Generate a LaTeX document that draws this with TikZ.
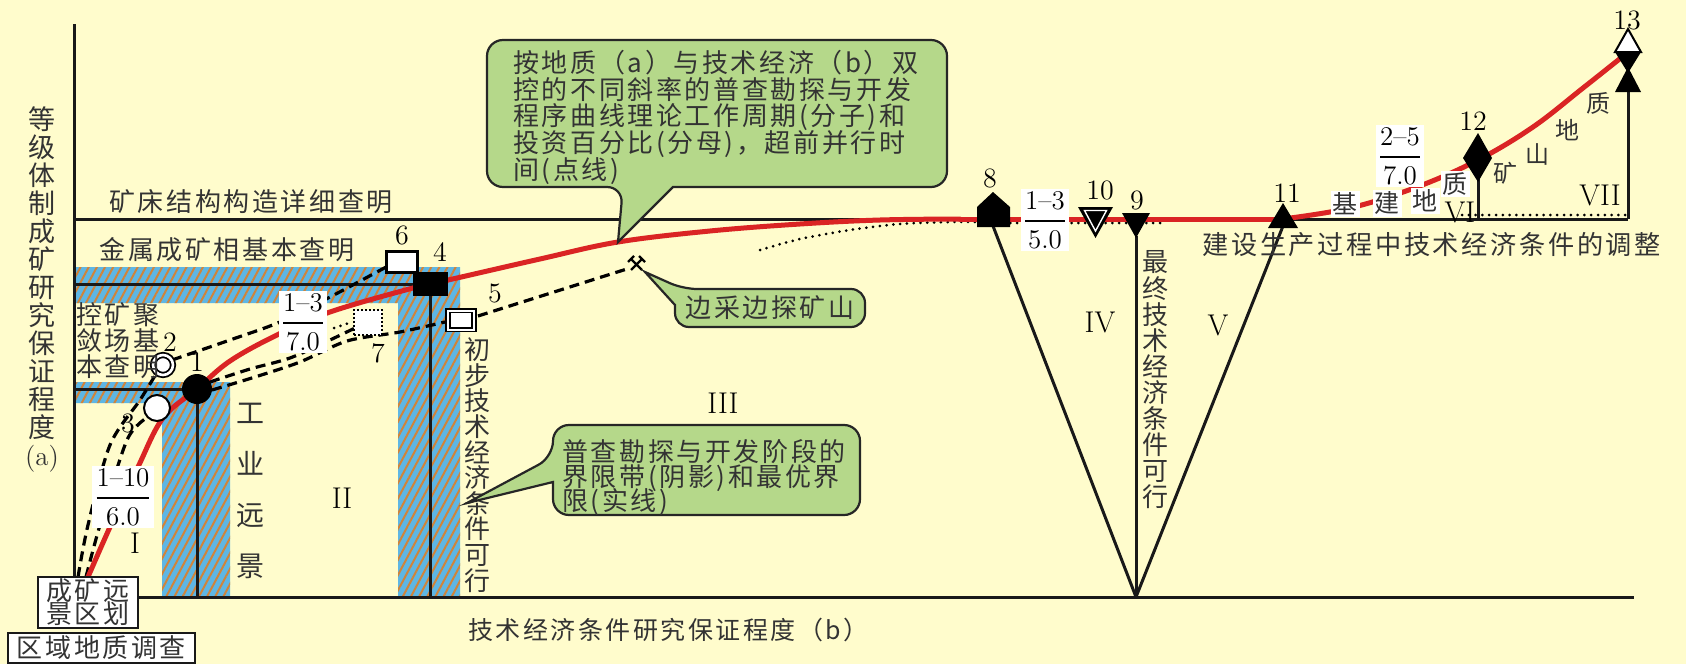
\documentclass[tikz,border=0pt]{standalone}
\usepackage{fontspec}
\usepackage{amsmath}
\usetikzlibrary{patterns.meta}
\newfontfamily\cjk[LetterSpace=10]{Noto Sans CJK SC}
\newcommand{\workfrac}[2]{$\genfrac{}{}{0.9pt}{0}{\mbox{#1}}{\mbox{#2}}$}

\begin{document}
\lineskiplimit=-100pt
\begin{tikzpicture}[x=0.5pt, y=-0.5pt,
  frame/.style={line width=1.5pt, draw=black!90},
  bandfill/.style={fill=bandBlue, postaction={pattern={Lines[angle=62,distance=3.6pt,line width=1pt]}, pattern color=bandOrange}},
  optcurve/.style={line width=2.5pt, draw=curveRed, line cap=round},
  dashcurve/.style={line width=1.6pt, dash pattern=on 5pt off 3pt},
  dotcurve/.style={line width=1.5pt, line cap=round, dash pattern=on 0pt off 3.4pt},
  zh/.style={font=\cjk\fontsize{13}{13}\selectfont, text=inkGray, inner sep=0pt},
  num/.style={font=\fontsize{14}{14}\selectfont, inner sep=0pt},
  roman/.style={font=\fontsize{15}{15}\selectfont, inner sep=0pt},
  fracbox/.style={fill=white, inner sep=1pt, font=\fontsize{13.5}{13.5}\selectfont},
  tagbox/.style={fill=white, draw=black!90, line width=1.1pt, inner sep=0pt, text=inkGray},
  note/.style={fill=noteGreen, draw=black!85, line width=1.1pt},
]

% Colors
\definecolor{paperYellow}{HTML}{FFFCCC}
\definecolor{bandBlue}{HTML}{5EB6E4}
\definecolor{bandOrange}{HTML}{D0843A}
\definecolor{curveRed}{HTML}{DA2424}
\definecolor{noteGreen}{HTML}{B5D88A}
\definecolor{inkGray}{HTML}{333333}

% Background
\fill[paperYellow] (0,0) rectangle (1686,664);
\useasboundingbox (0,0) rectangle (1686,664);

% Boundary bands (shaded)
\path[bandfill] (74,267) -- (460,267) -- (460,597) -- (398,597) -- (398,303) -- (74,303) -- cycle;
\path[bandfill] (74,382) -- (230,382) -- (230,597) -- (162,597) -- (162,403) -- (74,403) -- cycle;

% Stage points
\coordinate (p1) at (197,389);
\coordinate (p2) at (163,365);
\coordinate (p3) at (157,408);
\coordinate (p4) at (430,284);
\coordinate (p5) at (461,320);
\coordinate (p6) at (402,262);
\coordinate (p7) at (368,322);
\coordinate (p12) at (1478,158);
\coordinate (p13) at (1628,92);

% Axes and frame lines
\coordinate (yTop) at (74,24);
\coordinate (yBot) at (74,577);
\coordinate (xLeft) at (138,597);
\coordinate (xRight) at (1634,597);
\coordinate (vBot) at (1136,597);
\draw[frame] (yTop) -- (yBot);
\draw[frame] (xLeft) -- (xRight);
\draw[frame] (74,219) -- (1628,219);
\draw[frame] (74,284) -- (p4) -- (p4 |- xLeft);
\draw[frame] (74,389) -- (p1) -- (p1 |- xLeft);
\draw[frame] (993,226) -- (vBot);
\draw[frame] (1283,226) -- (vBot);
\draw[frame] (1136,236) -- (vBot);
\draw[frame] (p12) -- (p12 |- 0,219);
\draw[frame] (p13) -- (p13 |- 0,219);

% Dotted lines (lead time)
\draw[dotcurve] plot[smooth] coordinates {(760,250) (800,239) (850,230) (900,224) (950,222) (990,222)};
\draw[dotcurve] (990,223) -- (1160,223);
\draw[dotcurve] (1462,215) -- (1626,215);
\draw[dotcurve] (334,328) -- (352,322);

% Dashed variant curves
\draw[dashcurve] plot[smooth] coordinates {(78,577) (88,525) (110,445) (140,400) (156,374)};
\draw[dashcurve] plot[smooth] coordinates {(86,577) (100,525) (127,440) (148,417)};
\draw[dashcurve] plot[smooth] coordinates {(172,360) (230,340) (280,322) (332,296) (388,266)};
\draw[dashcurve] plot[smooth] coordinates {(210,382) (250,369) (290,358) (330,340) (355,328)};
\draw[dashcurve] plot[smooth] coordinates {(212,390) (255,377) (300,362) (347,341) (400,332) (445,322)};
\draw[dashcurve] (478,316) -- (630,268);

% Mine mark
\draw[line width=1.2pt] (631,259) -- (642,270) (642,259) -- (631,270);
\draw[line width=1.2pt] (628,262) -- (634,256) (639,256) -- (645,262);

% Optimal curve
\draw[optcurve] plot[smooth, tension=0.6] coordinates {(88,577) (110,527) (138,467) (163,418) (197,389) (230,361) (277,335) (330,312) (413,288) (457,278) (540,259) (618,242) (710,231) (800,224) (880,220) (960,219)};
\draw[optcurve] (960,219) -- (1283,219);
\draw[optcurve] plot[smooth, tension=0.6] coordinates {(1283,219) (1350,208) (1417,187) (1478,160) (1533,127) (1583,88) (1622,57)};

% Ratios (period / investment)
\node[fracbox] (ratioA) at (123,497) {\workfrac{1\textendash10}{6.0}};
\node[fracbox] (ratioB) at (303,322) {\workfrac{1\textendash3}{7.0}};
\node[fracbox] (ratioC) at (1045,220) {\workfrac{1\textendash3}{5.0}};
\node[fracbox] (ratioD) at (1400,156) {\workfrac{2\textendash5}{7.0}};

% Markers
\node[circle, fill=black, minimum size=15pt, inner sep=0pt] (m1) at (p1) {};
\node[circle, draw, fill=white, line width=0.9pt, double=white, double distance=1.3pt, minimum size=10pt, inner sep=0pt] (m2) at (p2) {};
\node[circle, draw, fill=white, line width=1pt, minimum size=13pt, inner sep=0pt] (m3) at (p3) {};
\node[rectangle, fill=black, minimum width=17.5pt, minimum height=12pt, inner sep=0pt] (m4) at (p4) {};
\node[rectangle, draw, fill=white, line width=0.8pt, double=white, double distance=1pt, minimum width=13pt, minimum height=9.5pt, inner sep=0pt] (m5) at (p5) {};
\node[rectangle, draw, fill=white, line width=1.1pt, minimum width=15.5pt, minimum height=10.5pt, inner sep=0pt] (m6) at (p6) {};
\node[rectangle, draw, fill=white, line width=1pt, densely dotted, minimum width=14pt, minimum height=12.5pt, inner sep=0pt] (m7) at (p7) {};
\fill (977,227) -- (977,207) -- (993,192) -- (1010,207) -- (1010,227) -- cycle;
\fill (1122,213) -- (1150,213) -- (1136,238) -- cycle;
\fill (1078,207) -- (1113,207) -- (1095.5,238) -- cycle;
\draw[white, line width=0.7pt] (1084.5,210.5) -- (1106.5,210.5) -- (1095.5,231) -- cycle;
\fill (1268,228) -- (1298,228) -- (1283,203) -- cycle;
\fill (1478,133) -- (1492,158) -- (1478,182) -- (1463,158) -- cycle;
\filldraw[fill=white, draw=black, line width=1pt] (1615,52) -- (1641,52) -- (1628,29) -- cycle;
\fill (1615,52) -- (1641,52) -- (1628,73) -- cycle;
\fill (1615,92) -- (1641,92) -- (1628,67) -- cycle;

% Point numbers
\node[num] (n1) at (197,362) {1};
\node[num] (n2) at (170,342) {2};
\node[num] (n3) at (128,423) {3};
\node[num] (n4) at (440,252) {4};
\node[num] (n5) at (495,293) {5};
\node[num] (n6) at (402,235) {6};
\node[num] (n7) at (378,353) {7};
\node[num] (n8) at (990,178) {8};
\node[num] (n9) at (1137,200) {9};
\node[num] (n10) at (1100,190) {10};
\node[num] (n11) at (1287,193) {11};
\node[num] (n12) at (1473,121) {12};
\node[num] (n13) at (1627,20) {13};

% Stage numbers
\node[roman] (stI) at (135,543) {I};
\node[roman] (stII) at (342,498) {II};
\node[roman] (stIII) at (723,403) {III};
\node[roman] (stIV) at (1100,322) {IV};
\node[roman] (stV) at (1218,325) {V};
\node[roman] (stVI) at (1460,212) {VI};
\node[roman] (stVII) at (1600,195) {VII};

% Axis titles
\node[zh, align=center, font=\cjk\fontsize{13.5}{14}\selectfont] (axisA) at (42,289) {等\\级\\体\\制\\成\\矿\\研\\究\\保\\证\\程\\度\\{\rmfamily (a)}};
\node[zh, anchor=west, font=\cjk\fontsize{12.5}{12.5}\selectfont] (axisB) at (468,630) {技术经济条件研究保证程度（b）};

% Level texts
\node[zh] (lvlStruct) at (251,202) {矿床结构构造详细查明};
\node[zh] (lvlFacies) at (227,250) {金属成矿相基本查明};
\node[zh, anchor=west, align=left] (lvlField) at (76,341) {控矿聚\\敛场基\\本查明};
\node[zh, align=center, font=\cjk\fontsize{14}{25.5}\selectfont] (lvlIndustry) at (250,491) {工\\业\\远\\景};
\node[zh, align=center, font=\cjk\fontsize{13}{12.8}\selectfont] (lvlPrelim) at (477,465) {初\\步\\技\\术\\经\\济\\条\\件\\可\\行};
\node[zh, align=center, font=\cjk\fontsize{13}{13.05}\selectfont] (lvlFinal) at (1155,380) {最\\终\\技\\术\\经\\济\\条\\件\\可\\行};
\node[zh, anchor=west, font=\cjk\fontsize{13.1}{13.1}\selectfont] (lvlAdjust) at (1202,245) {建设生产过程中技术经济条件的调整};

% Words along the curve
\node[zh, fill=white, inner sep=1pt, font=\cjk\fontsize{12.5}{12.5}\selectfont] (wJi) at (1345,204) {基};
\node[zh, fill=white, inner sep=1pt, font=\cjk\fontsize{12.5}{12.5}\selectfont] (wJian) at (1387,203) {建};
\node[zh, fill=white, inner sep=1pt, font=\cjk\fontsize{12.5}{12.5}\selectfont] (wDi) at (1425,201) {地};
\node[zh, fill=white, inner sep=1pt, font=\cjk\fontsize{12.5}{12.5}\selectfont] (wZhi) at (1455,184) {质};
\node[zh, font=\cjk\fontsize{12}{12}\selectfont] (wKuang) at (1505,173) {矿};
\node[zh, font=\cjk\fontsize{12}{12}\selectfont] (wShan) at (1537,154) {山};
\node[zh, font=\cjk\fontsize{12}{12}\selectfont] (wDi2) at (1567,130) {地};
\node[zh, font=\cjk\fontsize{12}{12}\selectfont] (wZhi2) at (1598,103) {质};

% Start boxes
\node[tagbox, minimum width=50pt, minimum height=25.5pt, align=center, font=\cjk\fontsize{13}{11.5}\selectfont] (boxProspect) at (88,602.5) {成矿远\\景区划};
\node[tagbox, minimum width=93.5pt, minimum height=15pt, font=\cjk\fontsize{13}{13}\selectfont] (boxRegional) at (101.5,648) {区域地质调查};

% Callouts
\draw[note] (673,187) [rounded corners=8pt] -- (947,187) -- (947,40) -- (487,40) -- (487,187) -- (623,187) [sharp corners] -- (618,242) -- cycle;
\node[zh, anchor=north west, align=left, font=\cjk\fontsize{13}{13.3}\selectfont] (noteCurve) at (513,50) {按地质（a）与技术经济（b）双\\控的不同斜率的普查勘探与开发\\程序曲线理论工作周期(分子)和\\投资百分比(分母)，超前并行时\\间(点线)};

\draw[note] (675,305) [rounded corners=7pt] -- (675,327) -- (865,327) -- (865,289) -- (683,289) [sharp corners] -- (645,272) -- cycle;
\node[zh] (noteMine) at (770,308) {边采边探矿山};

\draw[note] (553,482) [rounded corners=8pt] -- (553,515) -- (860,515) -- (860,425) -- (553,425) -- (553,457) [sharp corners] -- (467,503) -- cycle;
\node[zh, anchor=north west, align=left, font=\cjk\fontsize{13}{12.3}\selectfont] (noteBand) at (562,439) {普查勘探与开发阶段的\\界限带(阴影)和最优界\\限(实线)};

\end{tikzpicture}
\end{document}
